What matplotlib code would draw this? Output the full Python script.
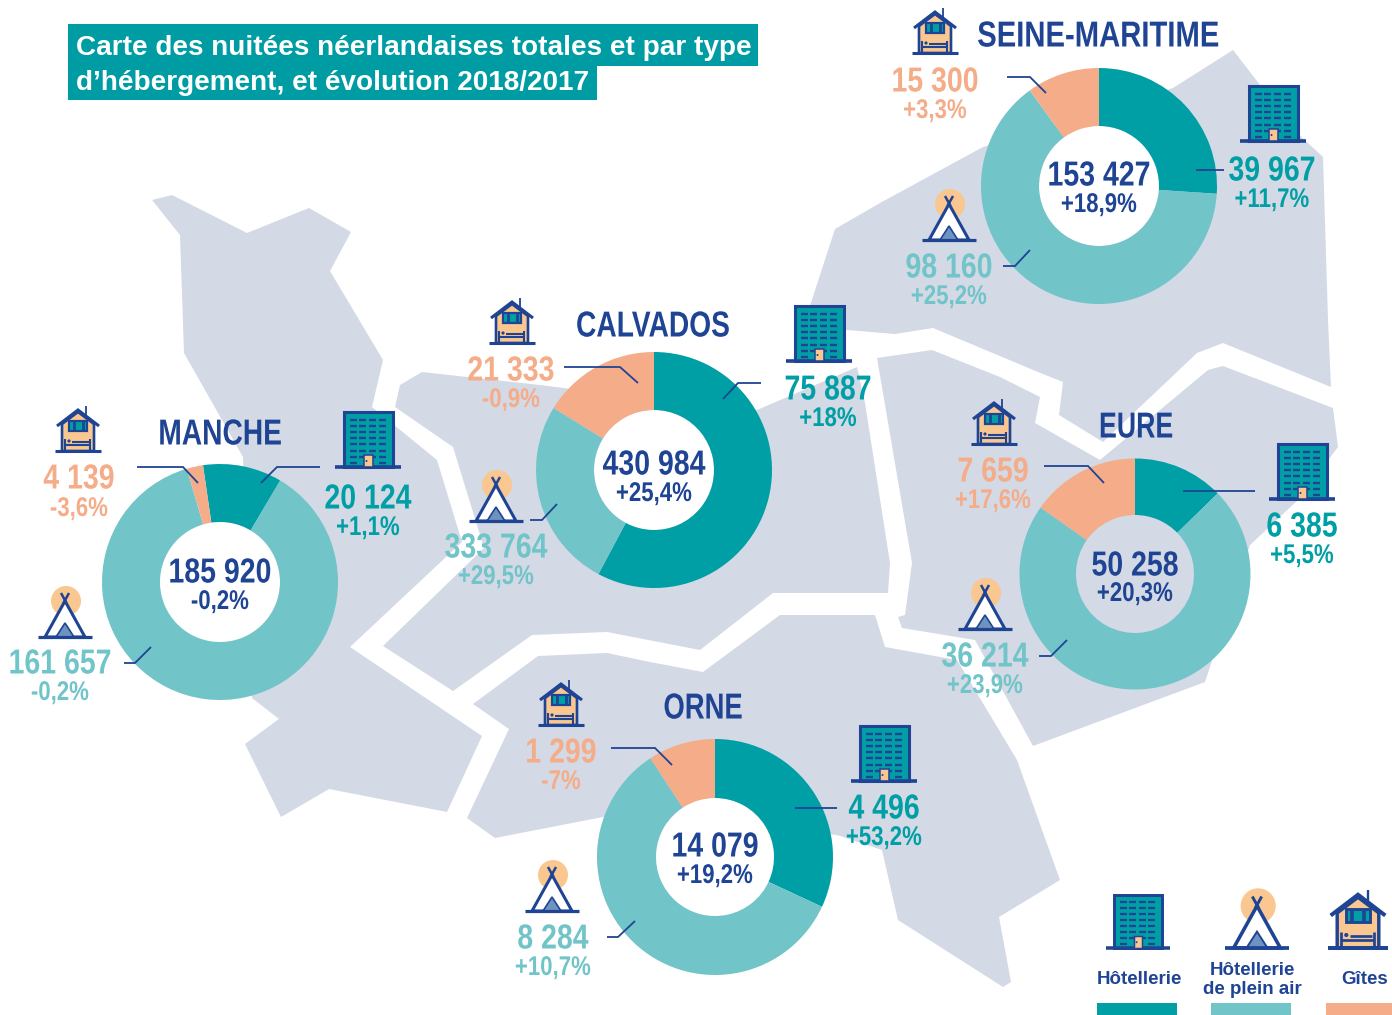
import matplotlib
matplotlib.use("Agg")
import matplotlib.pyplot as plt
from matplotlib.patches import Polygon, Rectangle, Circle
from matplotlib.patheffects import AbstractPathEffect
from matplotlib.transforms import Affine2D

W, H = 1392, 1015

# ---- data ----
departements = ["MANCHE", "CALVADOS", "SEINE-MARITIME", "EURE", "ORNE"]
totaux = [185920, 430984, 153427, 50258, 14079]
evol_totaux = ["-0,2%", "+25,4%", "+18,9%", "+20,3%", "+19,2%"]
hotellerie = [20124, 75887, 39967, 6385, 4496]
evol_hotellerie = ["+1,1%", "+18%", "+11,7%", "+5,5%", "+53,2%"]
plein_air = [161657, 333764, 98160, 36214, 8284]
evol_plein_air = ["-0,2%", "+29,5%", "+25,2%", "+23,9%", "+10,7%"]
gites = [4139, 21333, 15300, 7659, 1299]
evol_gites = ["-3,6%", "-0,9%", "+3,3%", "+17,6%", "-7%"]
# Calvados ring as it is actually drawn in the source (shares)
calvados_parts_dessinees = [57.8, 26.0, 16.2]
legende = ["Hôtellerie", "Hôtellerie\nde plein air", "Gîtes"]
titre = ["Carte des nuitées néerlandaises totales et par type",
         "d’hébergement, et évolution 2018/2017"]

# ---- style ----
TEAL, LTEAL, PEACH, NAVY, MAP = "#009FA5", "#71C4C8", "#F5AC88", "#1F4494", "#D3D9E5"
SUN, DOOR = "#F9C78F", "#F9C78F"
SANS = ["Liberation Sans", "DejaVu Sans"]

fig = plt.figure(figsize=(W / 100, H / 100), dpi=100, facecolor="white")
ax = fig.add_axes([0, 0, 1, 1])


class Condense(AbstractPathEffect):
    """Draw a real text artist horizontally condensed around its centre (no narrow font installed)."""

    def __init__(self, cx, sx):
        super().__init__()
        self.cx, self.sx = cx, sx

    def draw_path(self, renderer, gc, tpath, affine, rgbFace=None):
        a = affine + Affine2D().translate(-self.cx, 0).scale(self.sx, 1).translate(self.cx, 0)
        renderer.draw_path(gc, tpath, a, rgbFace)


def Y(y):
    return H - y


def poly(pts, **kw):
    ax.add_patch(Polygon([(x, Y(y)) for x, y in pts], closed=True, **kw))


def line(pts, color=NAVY, lw=1.3, z=6):
    ax.plot([p[0] for p in pts], [Y(p[1]) for p in pts], color=color, lw=lw, zorder=z,
            solid_capstyle="butt", solid_joinstyle="miter")


def rect(x0, y0, x1, y1, **kw):
    ax.add_patch(Rectangle((x0, Y(y1)), x1 - x0, y1 - y0, **kw))


def ntext(x, y, s, colour, size, sx=0.82):
    ax.text(x, Y(y + 2), s, color=colour, family=SANS, weight="bold", fontsize=size, ha="center",
            va="center", zorder=8, path_effects=[Condense(x, sx)])


# ---- map background ----
regions = [
    [(152, 200), (172, 195), (247, 233), (309, 208), (351, 232), (330, 271), (383, 360), (372, 407),
     (437, 460), (462, 542), (350, 647), (482, 736), (447, 812), (329, 789), (281, 817), (245, 744),
     (279, 719), (252, 698), (243, 457), (184, 353), (180, 235)],
    [(400, 385), (422, 372), (540, 385), (660, 400), (757, 410), (857, 367), (865, 403), (890, 563),
     (888, 593), (773, 593), (700, 650), (607, 632), (532, 635), (453, 691), (383, 646), (484, 548),
     (453, 447), (395, 407)],
    [(806, 318), (835, 229), (880, 203), (983, 147), (1173, 88), (1233, 50), (1297, 133), (1323, 157),
     (1328, 320), (1331, 387), (1223, 343), (1197, 353), (1103, 442), (1059, 415), (1063, 382),
     (1038, 372), (933, 328), (895, 334), (847, 330)],
    [(877, 358), (932, 350), (1000, 377), (1040, 397), (1035, 423), (1100, 460), (1208, 370),
     (1223, 366), (1333, 408), (1338, 447), (1298, 500), (1250, 545), (1205, 682), (1033, 746),
     (975, 640), (902, 628), (898, 617), (905, 615), (912, 563)],
    [(473, 704), (538, 656), (607, 653), (650, 662), (703, 672), (780, 615), (875, 615), (885, 647),
     (957, 660), (1017, 760), (1060, 880), (999, 917), (1011, 982), (1003, 987), (898, 920),
     (882, 850), (837, 835), (603, 817), (495, 838), (467, 818), (509, 729)],
]
for r in regions:
    poly(r, fc=MAP, ec="none", zorder=1)


# ---- icons ----
def building(cx, base, s=1.0):
    w, h, b = 24.5 * s, 55 * s, 33 * s
    rect(cx - w, base - h, cx + w, base, fc=TEAL, ec=NAVY, lw=2.2 * s, zorder=4)
    line([(cx - b, base), (cx + b, base)], lw=2.6 * s, z=5)
    for i in range(8):
        yy = base - h + (8 + 6.1 * i) * s
        for j in range(4):
            if i == 7 and j in (1, 2):
                continue
            x0 = cx - 18.5 * s + j * 9.7 * s
            line([(x0, yy), (x0 + 7 * s, yy)], lw=1.7 * s, z=5)
    rect(cx - 4.5 * s, base - 12 * s, cx + 4.5 * s, base, fc=DOOR, ec=NAVY, lw=1.1 * s, zorder=5)
    ax.add_patch(Circle((cx - 1.5 * s, Y(base - 6 * s)), 1.0 * s, fc=NAVY, ec="none", zorder=6))


def tent(cx, base, s=1.0):
    ax.add_patch(Circle((cx + 1 * s, Y(base - 36 * s)), 15 * s, fc=SUN, ec="none", zorder=3))
    poly([(cx - 20 * s, base), (cx, base - 36 * s), (cx + 20 * s, base)], fc="white", ec=NAVY,
         lw=2.2 * s, zorder=4)
    poly([(cx - 9 * s, base), (cx, base - 14 * s), (cx + 9 * s, base)], fc="#6E93BE", ec=NAVY,
         lw=1.2 * s, zorder=5)
    line([(cx - 4 * s, base - 44 * s), (cx + 1.5 * s, base - 34 * s)], lw=1.8 * s, z=5)
    line([(cx + 4 * s, base - 44 * s), (cx - 1.5 * s, base - 34 * s)], lw=1.8 * s, z=5)
    line([(cx - 27 * s, base), (cx + 27 * s, base)], lw=2.3 * s, z=6)


def house(cx, base, s=1.0):
    poly([(cx - 16 * s, base), (cx - 16 * s, base - 27 * s), (cx, base - 39 * s),
          (cx + 16 * s, base - 27 * s), (cx + 16 * s, base)], fc=SUN, ec=NAVY, lw=1.9 * s, zorder=4)
    line([(cx - 21 * s, base - 25 * s), (cx, base - 41 * s), (cx + 21 * s, base - 25 * s)], lw=2.2 * s, z=5)
    line([(cx + 7.5 * s, base - 36 * s), (cx + 7.5 * s, base - 45 * s)], lw=1.3 * s, z=5)
    rect(cx - 9 * s, base - 30 * s, cx + 9 * s, base - 20 * s, fc=TEAL, ec=NAVY, lw=1.6 * s, zorder=5)
    line([(cx - 4.5 * s, base - 30 * s), (cx - 4.5 * s, base - 20 * s)], lw=2.0 * s, z=6)
    line([(cx + 4.5 * s, base - 30 * s), (cx + 4.5 * s, base - 20 * s)], lw=2.0 * s, z=6)
    line([(cx - 13 * s, base - 12 * s), (cx - 13 * s, base)], lw=1.5 * s, z=6)
    line([(cx + 12 * s, base - 12 * s), (cx + 12 * s, base)], lw=1.5 * s, z=6)
    line([(cx - 13 * s, base - 6 * s), (cx + 12 * s, base - 6 * s)], lw=1.5 * s, z=6)
    line([(cx - 6 * s, base - 9 * s), (cx + 11 * s, base - 9 * s)], lw=1.5 * s, z=6)
    ax.add_patch(Circle((cx - 9 * s, Y(base - 10 * s)), 1.6 * s, fc=NAVY, ec="none", zorder=6))
    line([(cx - 23 * s, base), (cx + 23 * s, base)], lw=2.2 * s, z=6)


# ---- layout, one entry per département, pixels ----
centres = [(220, 582, 118, 60), (654, 470, 118, 60), (1099, 186, 118, 60), (1135, 574, 115.5, 59), (715, 857, 118, 59)]
rotation = [8.3, 0, 0, 0, 0]
hole_colour = ["white", "white", "white", MAP, "white"]
title_xy = [(220, 433), (653, 325), (1098, 35), (1136, 426), (703, 707)]
title_sx = [0.78, 0.78, 0.81, 0.74, 0.76]
total_y = [(571, 600), (463, 492), (174, 203), (564, 592), (845, 874)]
hot_xy = [(368, 497, 526), (828, 388, 417), (1272, 169, 198), (1302, 525, 554), (884, 807, 836)]
pla_xy = [(60, 662, 691), (496, 546, 575), (949, 266, 295), (985, 655, 684), (553, 937, 966)]
git_xy = [(79, 477, 507), (511, 369, 398), (935, 80, 109), (993, 470, 499), (561, 751, 780)]
bld = [(368, 467), (819, 361), (1273, 141), (1302, 499), (884, 781)]
tnt = [(65, 637), (496, 521), (949, 240), (985, 629), (552, 911)]
hse = [(78, 451), (512, 343), (935, 53), (994, 444), (561, 725)]
lead_h = [[(320, 467), (277, 467), (261, 483)], [(761, 383), (738, 383), (723, 399)],
          [(1224, 170), (1196, 170)], [(1255, 491), (1183, 491)], [(837, 808), (795, 808)]]
lead_p = [[(124, 663), (135, 663), (151, 647)], [(530, 520), (542, 520), (557, 504)],
          [(1003, 266), (1015, 266), (1030, 250)], [(1039, 656), (1051, 656), (1067, 640)],
          [(607, 937), (618, 937), (635, 921)]]
lead_g = [[(137, 467), (183, 467), (198, 483)], [(564, 367), (620, 367), (638, 383)],
          [(1007, 77), (1030, 77), (1046, 93)], [(1044, 466), (1088, 466), (1104, 483)],
          [(611, 748), (655, 748), (672, 765)]]


def num(v):
    return f"{v:,}".replace(",", " ")


def pair(x, y1, y2, value, evol, colour):
    ntext(x, y1, num(value), colour, 25)
    ntext(x, y2, evol, colour, 19.5)


for i, name in enumerate(departements):
    cx, cy, r, hole = centres[i]
    vals = [hotellerie[i], plein_air[i], gites[i]]
    if name == "CALVADOS":
        vals = calvados_parts_dessinees
    ax.pie(vals, colors=[TEAL, LTEAL, PEACH], startangle=90 + rotation[i], counterclock=False,
           center=(cx, Y(cy)), radius=r, frame=True, normalize=True,
           wedgeprops=dict(width=r - hole, linewidth=0, zorder=3))
    ax.add_patch(Circle((cx, Y(cy)), hole, fc=hole_colour[i], ec="none", zorder=2))
    ntext(title_xy[i][0], title_xy[i][1], name, NAVY, 26, title_sx[i])
    pair(cx, total_y[i][0], total_y[i][1], totaux[i], evol_totaux[i], NAVY)
    pair(hot_xy[i][0], hot_xy[i][1], hot_xy[i][2], hotellerie[i], evol_hotellerie[i], TEAL)
    pair(pla_xy[i][0], pla_xy[i][1], pla_xy[i][2], plein_air[i], evol_plein_air[i], LTEAL)
    pair(git_xy[i][0], git_xy[i][1], git_xy[i][2], gites[i], evol_gites[i], PEACH)
    building(*bld[i])
    tent(*tnt[i])
    house(*hse[i])
    for pts in (lead_h[i], lead_p[i], lead_g[i]):
        line(pts)

# ---- title ----
rect(68, 24, 758, 65.5, fc="#009CA3", ec="none", zorder=7)
rect(68, 65, 597, 100, fc="#009CA3", ec="none", zorder=7)
ax.text(76, Y(47.5), titre[0], color="white", family=SANS, weight="bold", fontsize=20.1,
        ha="left", va="center", zorder=9)
ax.text(76, Y(82.5), titre[1], color="white", family=SANS, weight="bold", fontsize=20.1,
        ha="left", va="center", zorder=9)

# ---- legend ----
building(1138, 948, 0.97)
tent(1257, 948, 1.17)
house(1358, 948, 1.3)
leg_x = [1139, 1252, 1365]
leg_y = [980, 980, 980]
for x, y, s in zip(leg_x, leg_y, legende):
    ax.text(x, Y(y), s, color=NAVY, family=SANS, weight="bold", fontsize=13.5, ha="center",
            va="center", linespacing=1.12, zorder=8)
for x0, x1, c in [(1097, 1177, TEAL), (1211, 1291, LTEAL), (1326, 1392, PEACH)]:
    rect(x0, 1003, x1, 1015, fc=c, ec="none", zorder=3)

ax.set_xlim(0, W)
ax.set_ylim(0, H)
ax.set_aspect("auto")
ax.axis("off")
fig.savefig("out.png", dpi=100, facecolor="white")
